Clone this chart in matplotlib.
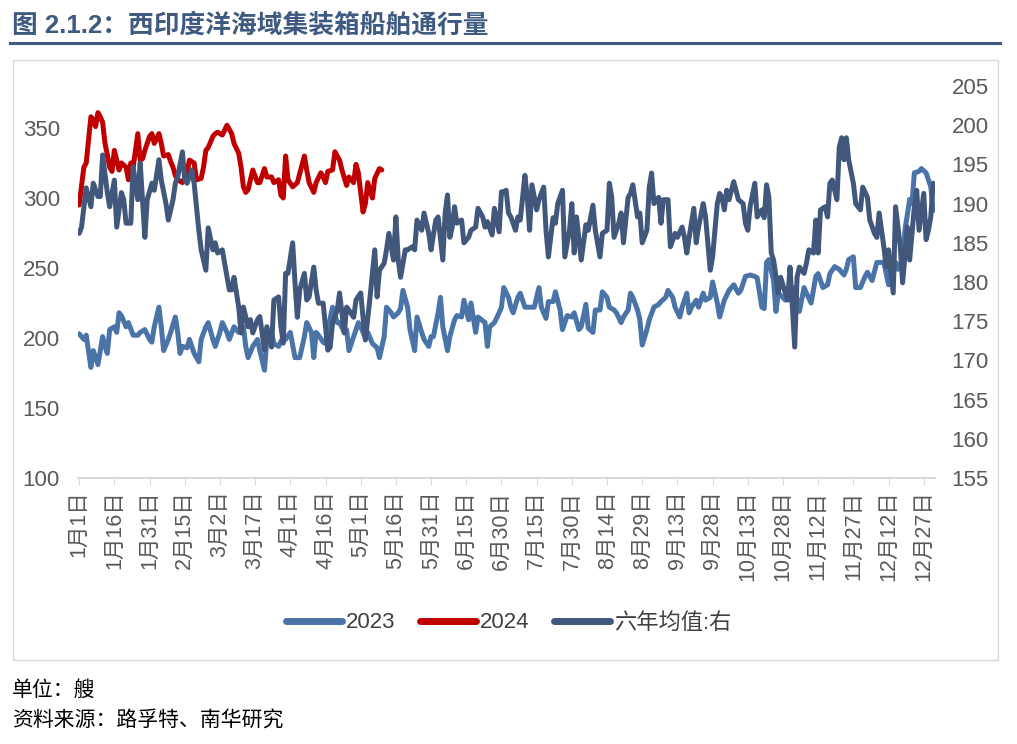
import matplotlib
matplotlib.use("Agg")
import matplotlib.pyplot as plt
import pandas as pd
from matplotlib.lines import Line2D
from matplotlib.patches import Rectangle

plt.rcParams['font.family'] = ['Liberation Sans', 'Noto Sans CJK SC', 'DejaVu Sans']

# (day of year, value)
pts_2023 = [(0, 203), (2, 199), (3, 202), (5, 179), (6, 191), (8, 181), (9, 191), (10, 201), (11, 194), (12, 189),
            (13, 206), (15, 208), (16, 204), (17, 218), (18, 216), (20, 208), (21, 211), (23, 202), (25, 202), (26, 204),
            (28, 206), (30, 199), (31, 197), (32, 208), (34, 222), (35, 208), (36, 191), (38, 199), (39, 204), (41, 215),
            (42, 204), (43, 189), (44, 194), (46, 193), (47, 199), (49, 189), (51, 183), (52, 199), (54, 208), (55, 211),
            (57, 199), (58, 194), (60, 204), (61, 211), (63, 204), (64, 199), (66, 208), (68, 204), (70, 208), (71, 194),
            (72, 186), (74, 194), (76, 199), (77, 191), (79, 177), (80, 199), (82, 204), (83, 196), (85, 194), (87, 201),
            (88, 199), (90, 204), (92, 186), (94, 186), (96, 201), (97, 211), (99, 204), (100, 186), (101, 204), (102, 202),
            (104, 197), (105, 196), (106, 206), (108, 222), (110, 211), (111, 211), (113, 204), (114, 206), (115, 191), (117, 201),
            (119, 211), (120, 208), (122, 200), (123, 204), (125, 196), (127, 193), (128, 186), (130, 201), (131, 222), (133, 218),
            (134, 215), (136, 218), (137, 221), (138, 234), (140, 222), (141, 206), (143, 191), (144, 215), (146, 204), (147, 199),
            (149, 194), (150, 201), (151, 201), (153, 218), (154, 229), (155, 208), (157, 191), (158, 201), (160, 213), (161, 216),
            (163, 215), (164, 227), (166, 213), (167, 225), (169, 204), (170, 215), (173, 211), (174, 194), (175, 208), (177, 211),
            (179, 218), (180, 222), (181, 236), (183, 229), (184, 222), (185, 218), (187, 229), (188, 232), (190, 222), (192, 222),
            (194, 222), (196, 236), (197, 222), (199, 214), (200, 226), (202, 226), (203, 233), (205, 220), (206, 206), (208, 216),
            (210, 215), (211, 218), (213, 206), (214, 208), (216, 224), (217, 207), (219, 204), (220, 220), (222, 220), (223, 233),
            (225, 229), (226, 222), (228, 220), (229, 218), (231, 211), (232, 215), (234, 220), (235, 232), (236, 229), (238, 220),
            (239, 213), (240, 195), (242, 206), (243, 213), (245, 222), (247, 224), (248, 226), (250, 229), (251, 234), (253, 229),
            (254, 222), (256, 215), (257, 222), (259, 232), (260, 218), (261, 222), (263, 227), (264, 222), (266, 232), (267, 227),
            (269, 229), (270, 240), (272, 225), (273, 215), (275, 227), (277, 234), (279, 238), (281, 232), (282, 234), (284, 244),
            (286, 245), (288, 244), (289, 243), (291, 222), (292, 221), (293, 254), (294, 256), (296, 241), (297, 219), (298, 232),
            (300, 229), (301, 227), (303, 234), (305, 236), (307, 219), (309, 236), (310, 232), (312, 225), (314, 244), (315, 246),
            (317, 236), (319, 238), (320, 246), (322, 251), (324, 249), (326, 245), (327, 249), (328, 256), (330, 258), (331, 236),
            (333, 236), (335, 244), (336, 247), (338, 241), (340, 254), (341, 254), (343, 254), (345, 238), (346, 251), (348, 254),
            (349, 249), (351, 256), (352, 277), (354, 299), (355, 296), (356, 318), (358, 319), (359, 321), (361, 318), (362, 313),
            (363, 308), (364, 291)]

pts_2024 = [(0, 295), (2, 322), (3, 325), (5, 358), (6, 356), (7, 351), (8, 361), (9, 358), (10, 354), (11, 339),
            (12, 331), (13, 322), (14, 319), (15, 334), (17, 320), (18, 325), (20, 322), (21, 313), (22, 325), (23, 322),
            (25, 346), (26, 327), (27, 328), (28, 334), (30, 344), (31, 346), (32, 339), (34, 346), (35, 339), (36, 330),
            (38, 331), (39, 326), (40, 322), (41, 316), (42, 313), (44, 311), (46, 318), (47, 327), (49, 325), (50, 313),
            (52, 314), (53, 322), (54, 334), (55, 336), (57, 344), (58, 346), (59, 347), (61, 345), (63, 352), (65, 346),
            (66, 339), (68, 332), (69, 322), (70, 308), (71, 304), (72, 306), (74, 320), (76, 311), (77, 311), (79, 321),
            (80, 315), (82, 315), (83, 311), (85, 313), (86, 302), (87, 300), (88, 330), (89, 313), (91, 308), (93, 311),
            (96, 330), (97, 320), (98, 311), (100, 304), (101, 311), (103, 318), (104, 315), (105, 311), (106, 319), (108, 320),
            (109, 333), (111, 327), (112, 320), (114, 309), (115, 315), (117, 311), (118, 324), (119, 318), (121, 290), (122, 296),
            (123, 311), (125, 300), (126, 314), (128, 321), (129, 320)]

pts_avg = [(0, 186.2), (1, 187.0), (3, 192.0), (5, 189.6), (6, 192.6), (8, 190.9), (9, 190.9), (10, 196.2), (12, 191.4), (13, 189.6),
           (15, 193.0), (16, 187.0), (18, 191.4), (19, 190.5), (20, 187.5), (22, 187.5), (23, 194.7), (25, 190.5), (26, 195.2), (28, 185.7),
           (29, 190.5), (31, 192.6), (32, 191.7), (34, 195.6), (35, 193.0), (37, 190.0), (38, 187.9), (40, 190.5), (41, 192.6), (42, 193.4),
           (44, 196.6), (45, 193.0), (46, 192.6), (48, 194.3), (49, 192.6), (51, 186.6), (52, 184.1), (54, 181.5), (55, 186.9), (57, 184.1),
           (58, 185.0), (59, 183.7), (61, 184.1), (62, 182.4), (64, 179.0), (65, 179.0), (66, 180.6), (68, 176.8), (69, 173.5), (70, 176.8),
           (72, 174.3), (73, 175.2), (74, 173.5), (76, 175.2), (77, 175.6), (79, 171.3), (80, 174.3), (82, 171.7), (83, 177.7), (85, 178.1),
           (86, 174.3), (87, 172.2), (88, 181.1), (89, 181.1), (91, 185.0), (92, 179.9), (93, 175.5), (94, 179.0), (96, 181.1), (97, 177.7),
           (98, 178.1), (100, 181.9), (101, 179.0), (102, 177.3), (104, 177.3), (106, 171.3), (107, 171.7), (108, 174.8), (110, 176.4), (111, 178.6),
           (113, 173.5), (114, 176.8), (115, 176.4), (117, 175.5), (118, 177.7), (120, 178.6), (121, 175.5), (122, 172.6), (124, 178.1), (126, 184.1),
           (127, 178.1), (128, 181.5), (130, 182.4), (131, 184.1), (132, 186.2), (134, 182.8), (135, 188.3), (136, 182.8), (137, 180.6), (139, 184.1),
           (140, 184.1), (142, 184.5), (143, 184.1), (144, 187.9), (146, 186.6), (147, 188.8), (149, 186.2), (150, 184.1), (152, 187.9), (153, 188.3),
           (155, 182.8), (156, 188.8), (157, 191.1), (158, 185.7), (159, 187.0), (160, 189.6), (161, 187.5), (163, 187.9), (164, 185.0), (166, 185.7),
           (167, 186.6), (169, 187.0), (170, 189.4), (172, 188.3), (173, 187.0), (174, 187.7), (176, 186.0), (177, 189.4), (179, 186.4), (180, 191.5),
           (181, 191.5), (182, 191.7), (183, 188.8), (184, 188.3), (186, 186.6), (187, 188.3), (188, 187.9), (190, 193.6), (191, 190.8), (192, 186.6),
           (193, 192.4), (195, 189.2), (196, 190.5), (198, 192.1), (199, 186.6), (200, 183.2), (202, 188.2), (203, 187.5), (204, 190.0), (206, 191.7),
           (207, 183.2), (209, 186.6), (210, 190.0), (211, 183.7), (212, 188.3), (214, 182.8), (215, 185.0), (216, 187.3), (217, 186.6), (219, 189.8),
           (220, 186.6), (222, 183.2), (223, 186.2), (225, 186.6), (226, 192.6), (227, 190.8), (228, 185.7), (230, 187.5), (231, 188.8), (232, 185.0),
           (234, 190.8), (235, 191.3), (236, 192.4), (238, 188.3), (239, 188.8), (240, 185.0), (242, 186.6), (243, 192.1), (244, 193.9), (245, 190.0),
           (247, 190.8), (248, 187.5), (249, 190.5), (251, 190.5), (252, 184.5), (254, 186.2), (255, 185.7), (257, 187.0), (258, 185.7), (259, 183.7),
           (260, 185.7), (262, 189.4), (263, 185.0), (264, 187.0), (266, 190.0), (267, 188.3), (269, 181.5), (270, 183.2), (272, 190.0), (273, 191.3),
           (274, 190.8), (275, 189.2), (276, 191.7), (277, 190.5), (279, 192.8), (281, 190.5), (283, 190.0), (284, 187.5), (285, 186.6), (286, 189.6),
           (288, 192.6), (289, 188.3), (291, 189.2), (292, 188.2), (293, 192.4), (294, 190.8), (295, 183.7), (296, 182.8), (298, 178.6), (299, 180.6),
           (301, 178.6), (302, 177.7), (303, 181.9), (304, 176.8), (305, 171.7), (306, 180.6), (307, 181.9), (309, 181.1), (310, 182.4), (311, 184.1),
           (313, 183.7), (314, 187.9), (315, 183.7), (316, 189.2), (318, 189.6), (319, 188.3), (320, 192.6), (321, 193.0), (323, 190.5), (324, 197.2),
           (325, 198.4), (326, 195.6), (327, 198.4), (328, 195.6), (330, 192.6), (331, 190.0), (333, 189.2), (334, 192.1), (336, 190.8), (337, 187.9),
           (339, 186.2), (340, 185.7), (341, 188.8), (343, 184.5), (344, 181.9), (345, 184.1), (347, 178.6), (348, 189.6), (350, 184.5), (351, 179.9),
           (353, 187.0), (354, 182.8), (356, 189.6), (357, 191.7), (358, 186.6), (360, 191.3), (361, 185.4), (362, 186.6), (363, 188.3), (364, 192.6)]

tick_days = list(range(0, 365, 15))
tick_labels = [f"{d.month}月{d.day}日" for d in pd.Timestamp("2023-01-01") + pd.to_timedelta(tick_days, unit="D")]

c2023 = "#4A74A8"
c2024 = "#C00000"
cavg = "#41587C"
grey = "#595959"

fig = plt.figure(figsize=(10.17, 7.44), dpi=100)

# title and rule
fig.text(12 / 1017, 1 - 25 / 744, "图 2.1.2：西印度洋海域集装箱船舶通行量", fontsize=18.5, fontweight="bold",
         color="#3E5A80", va="center", ha="left")
fig.add_artist(Line2D([10 / 1017, 1000 / 1017], [1 - 43 / 744, 1 - 43 / 744], color="#3E5A80", lw=2.2))
fig.add_artist(Rectangle((13 / 1017, 1 - 660 / 744), 985 / 1017, 600 / 744, fill=False, edgecolor="#D9D9D9", lw=1))

ax = fig.add_axes([78 / 1017, 1 - 478 / 744, 857 / 1017, 392 / 744])
ax2 = ax.twinx()

x23, y23 = zip(*pts_2023)
x24, y24 = zip(*pts_2024)
xa, ya = zip(*pts_avg)
ax.plot(x23, y23, color=c2023, lw=3.6, solid_joinstyle="round", solid_capstyle="round")
ax.plot(x24, y24, color=c2024, lw=3.6, solid_joinstyle="round", solid_capstyle="round")
ax2.plot(xa, ya, color=cavg, lw=3.6, solid_joinstyle="round", solid_capstyle="round")

ax.set_xlim(-0.5, 364.8)
ax.set_ylim(100, 380)
ax.set_yticks([100, 150, 200, 250, 300, 350])
ax2.set_ylim(155, 205)
ax2.set_yticks(list(range(155, 206, 5)))

ax.set_xticks(tick_days)
ax.set_xticklabels(tick_labels, rotation=90, fontsize=15.5, color=grey)
ax.tick_params(axis="x", length=5, color="#D9D9D9", pad=4)
ax.tick_params(axis="y", length=0, labelsize=16, labelcolor=grey, pad=13)
ax2.tick_params(axis="y", length=0, labelsize=16, labelcolor=grey, pad=12)

for a in (ax, ax2):
    for s in ("top", "left", "right"):
        a.spines[s].set_visible(False)
    a.spines["bottom"].set_color("#D9D9D9")
    a.spines["bottom"].set_linewidth(1.2)
    a.patch.set_visible(False)

handles = [Line2D([], [], color=c, lw=5, solid_capstyle="round") for c in (c2023, c2024, cavg)]
leg = fig.legend(handles, ["2023", "2024", "六年均值:右"], loc="center", bbox_to_anchor=(509 / 1017, 1 - 623 / 744),
                 ncol=3, frameon=False, fontsize=16, handlelength=2.5, handletextpad=0.2, columnspacing=1.1)
for t in leg.get_texts():
    t.set_color("#404040")

fig.text(12 / 1017, 1 - 690 / 744, "单位：艘", fontsize=15, color="black", va="center", ha="left")
fig.text(12 / 1017, 1 - 720 / 744, "资料来源：路孚特、南华研究", fontsize=15, color="black", va="center", ha="left")

fig.savefig("out.png", dpi=100)
